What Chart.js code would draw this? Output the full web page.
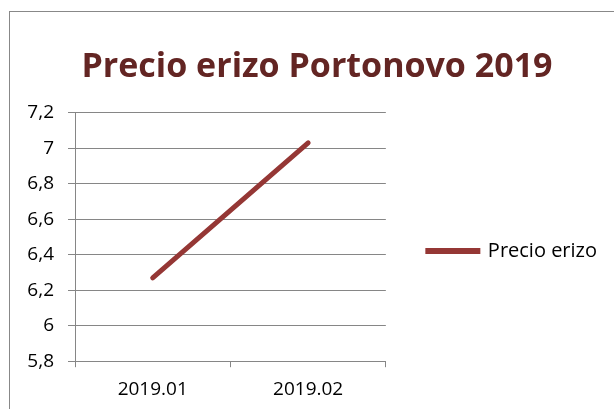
<!DOCTYPE html>
<html>
<head>
<meta charset="utf-8">
<script src="https://cdn.jsdelivr.net/npm/chart.js@4.4.1/dist/chart.umd.min.js"></script>
<style>
  body { margin: 0; background: #fff; }
  #wrap { position: relative; width: 614px; height: 409px; }
  #frame { position: absolute; left: 9px; top: 11px; width: 700px; height: 500px;
           border: 1px solid #888; pointer-events: none; }
</style>
</head>
<body>
<div id="wrap">
  <canvas id="myChart" width="614" height="409"></canvas>
  <div id="frame"></div>
</div>
<script>
var titulo = "Precio erizo Portonovo 2019";
var meses = ["2019.01", "2019.02"];
var precios = [6.27, 7.03];
var serie = "Precio erizo";
var yMin = 5.8;
var yMax = 7.2;
var yStep = 0.2;

var gris = "#868686";
var fuente = "'Open Sans', sans-serif";

// shift the legend down a little, Excel puts it lower than centre
var bajarLeyenda = {
    id: "bajarLeyenda",
    afterLayout: function (chart) {
        chart.legend.top += 14;
        chart.legend.bottom += 14;
    }
};

var ctx = document.getElementById("myChart").getContext("2d");
var myChart = new Chart(ctx, {
    type: 'line',
    data: {
        labels: meses,
        datasets: [
            {
                data: precios,
                label: serie,
                borderColor: "#953735",
                backgroundColor: "#953735",
                borderWidth: 5,
                borderCapStyle: "round",
                pointRadius: 0,
                fill: false
            }
        ]
    },
    options: {
        responsive: false,
        animation: false,
        layout: { padding: { left: 27, right: 7, top: 30, bottom: -3 } },
        plugins: {
            title: {
                display: true,
                text: titulo,
                color: "#632523",
                font: { family: fuente, size: 34, weight: "bold" },
                padding: { top: 17, bottom: 25 }
            },
            legend: {
                position: "right",
                fullSize: false,
                maxWidth: 229,
                labels: {
                    boxWidth: 50,
                    boxHeight: 1,
                    padding: 42,
                    color: "#000",
                    font: { family: fuente, size: 20 }
                }
            },
            tooltip: { enabled: false }
        },
        scales: {
            x: {
                offset: true,
                grid: { offset: true, drawOnChartArea: false, color: gris, tickLength: 6 },
                border: { color: gris },
                ticks: { color: "#000", padding: 11, font: { family: fuente, size: 19 } }
            },
            y: {
                min: yMin,
                max: yMax,
                afterFit: function (scale) { scale.width = 48; },
                grid: { color: gris, tickLength: 7 },
                border: { color: gris },
                ticks: {
                    stepSize: yStep,
                    color: "#000",
                    padding: 14,
                    font: { family: fuente, size: 19 },
                    callback: function (v) {
                        return String(Math.round(v * 10) / 10).replace(".", ",");
                    }
                }
            }
        }
    },
    plugins: [bajarLeyenda]
});
</script>
</body>
</html>
